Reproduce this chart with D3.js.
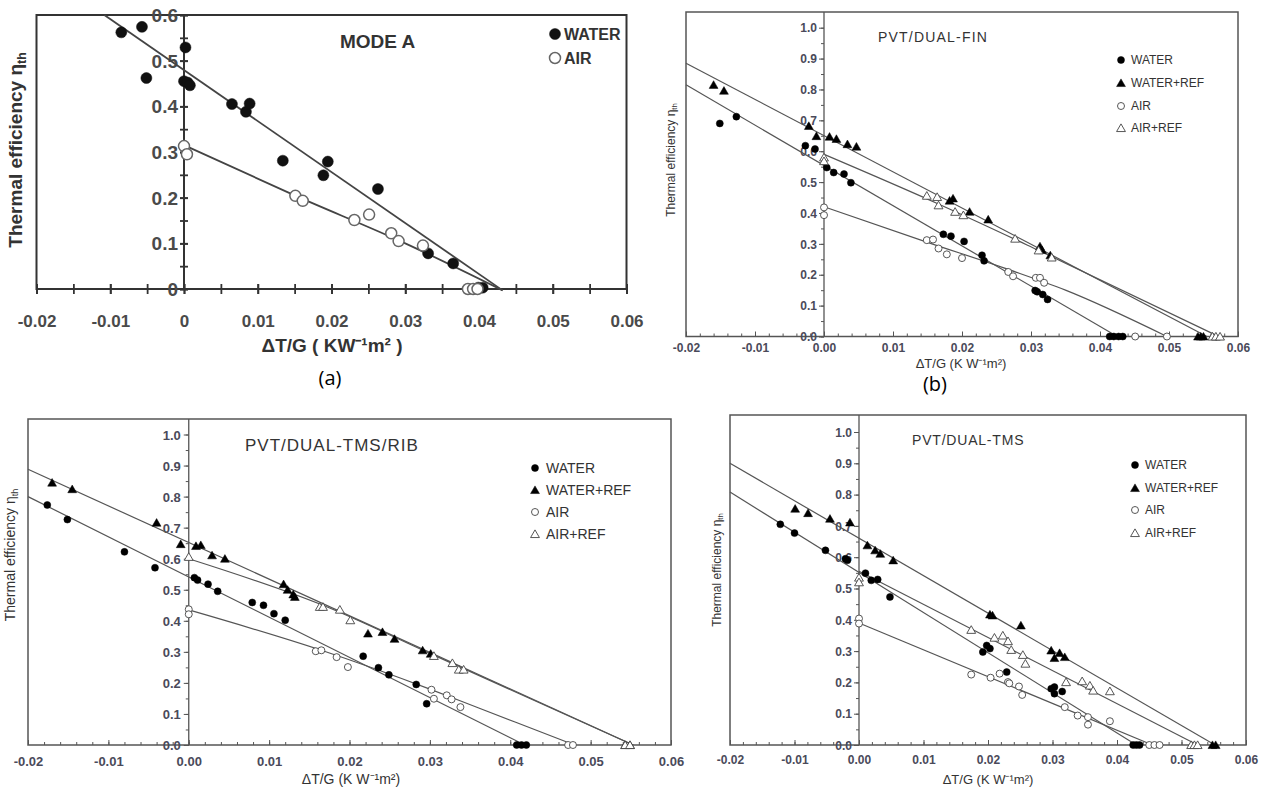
<!DOCTYPE html>
<html><head><meta charset="utf-8">
<script src="https://cdn.jsdelivr.net/npm/d3@7"></script>
<style>body{margin:0;background:#fff}svg{display:block}</style>
</head><body>
<svg id="fig" width="1267" height="790"></svg>
<script>
// ---------- tick values / labels ----------
const xTickValues = [-0.02,-0.01,0,0.01,0.02,0.03,0.04,0.05,0.06];
const xTickLabelsA = ["-0.02","-0.01","0","0.01","0.02","0.03","0.04","0.05","0.06"];
const xTickLabelsB = ["-0.02","-0.01","0.00","0.01","0.02","0.03","0.04","0.05","0.06"];
const yTickValuesA = [0,0.1,0.2,0.3,0.4,0.5,0.6];
const yTickLabelsA = ["0","0.1","0.2","0.3","0.4","0.5","0.6"];
const yTickValuesB = [0,0.1,0.2,0.3,0.4,0.5,0.6,0.7,0.8,0.9,1.0];
const yTickLabelsB = ["0.0","0.1","0.2","0.3","0.4","0.5","0.6","0.7","0.8","0.9","1.0"];
const legendA = ["WATER","AIR"];
const legendB = ["WATER","WATER+REF","AIR","AIR+REF"];
const panelTitles = ["MODE A","PVT/DUAL-FIN","PVT/DUAL-TMS/RIB","PVT/DUAL-TMS"];
const subLabels = ["(a)","(b)"];

// ---------- panel (a) MODE A ----------
const aWater = [[-0.0085,0.562],[-0.0057,0.574],[-0.0051,0.462],[0.0002,0.529],[0,0.455],[0.0005,0.452],[0.0008,0.446],[0.0065,0.405],[0.0084,0.388],[0.0089,0.406],[0.0134,0.281],[0.0189,0.249],[0.0195,0.279],[0.0263,0.219],[0.0331,0.078],[0.0365,0.056],[0.0399,0.003],[0.0405,0.003]];
const aAir = [[0,0.313],[0.0004,0.295],[0.0151,0.204],[0.0161,0.193],[0.0231,0.151],[0.0251,0.163],[0.0281,0.122],[0.0291,0.105],[0.0324,0.095],[0.0385,0.0],[0.0392,0.0],[0.0398,0.0]];
const aFitWater = [[-0.0108,0.6],[0.0432,-0.003]];
const aFitAir = [[0,0.315],[0.015,0.205],[0.03,0.1],[0.0432,-0.003]];

// ---------- panel (b) PVT/DUAL-FIN ----------
const bWater = [[-0.0151,0.69],[-0.0127,0.712],[-0.0027,0.618],[-0.0013,0.607],[0.0004,0.547],[0.0014,0.531],[0.0029,0.526],[0.0039,0.498],[0.0173,0.331],[0.0184,0.325],[0.0203,0.308],[0.0229,0.263],[0.0232,0.245],[0.0306,0.149],[0.0309,0.145],[0.0317,0.136],[0.0324,0.12],[0.0414,0],[0.042,0],[0.0427,0],[0.0433,0]];
const bWaterRef = [[-0.016,0.815],[-0.0145,0.796],[-0.0022,0.682],[-0.0011,0.649],[0.0008,0.647],[0.0018,0.64],[0.0034,0.623],[0.0047,0.615],[0.0182,0.44],[0.0187,0.447],[0.0211,0.404],[0.0238,0.379],[0.0313,0.292],[0.0316,0.28],[0.0328,0.263],[0.0542,0],[0.0546,0],[0.055,0]];
const bAir = [[0,0.418],[0,0.393],[0.0149,0.312],[0.0158,0.314],[0.0166,0.285],[0.0178,0.266],[0.02,0.254],[0.0267,0.209],[0.0274,0.195],[0.0307,0.19],[0.0313,0.19],[0.0319,0.174],[0.0451,0],[0.0497,0]];
const bAirRef = [[0,0.58],[0,0.568],[0.0149,0.456],[0.0164,0.452],[0.0166,0.425],[0.019,0.404],[0.0202,0.393],[0.0277,0.317],[0.0311,0.279],[0.033,0.256],[0.0563,0],[0.0568,0],[0.0574,0]];
const bFitWater = [[-0.02,0.815],[0.0425,0]];
const bFitWaterRef = [[-0.02,0.885],[0.0555,0]];
const bFitAir = [[0,0.42],[0.015,0.305],[0.027,0.215],[0.035,0.15],[0.0497,0]];
const bFitAirRef = [[0,0.59],[0.0165,0.43],[0.031,0.28],[0.0572,0]];

// ---------- panel (c) PVT/DUAL-TMS/RIB ----------
const cWater = [[-0.0176,0.773],[-0.0151,0.726],[-0.008,0.622],[-0.0042,0.571],[0.0007,0.539],[0.0011,0.531],[0.0024,0.518],[0.0036,0.495],[0.0079,0.459],[0.0093,0.45],[0.0106,0.423],[0.012,0.402],[0.0217,0.286],[0.0236,0.249],[0.0249,0.226],[0.0283,0.195],[0.0296,0.133],[0.0408,0],[0.0414,0],[0.042,0]];
const cWaterRef = [[-0.017,0.845],[-0.0145,0.824],[-0.004,0.716],[-0.001,0.647],[0.0009,0.641],[0.0015,0.644],[0.0029,0.611],[0.0045,0.6],[0.0118,0.518],[0.0123,0.5],[0.013,0.485],[0.0132,0.477],[0.0223,0.359],[0.0241,0.364],[0.0256,0.342],[0.0291,0.305],[0.0301,0.294],[0.0543,0],[0.0549,0]];
const cAir = [[0,0.437],[0,0.421],[0.0158,0.302],[0.0165,0.305],[0.0184,0.283],[0.0198,0.251],[0.0302,0.178],[0.0305,0.149],[0.0321,0.16],[0.0327,0.147],[0.0338,0.122],[0.0472,0],[0.0478,0]];
const cAirRef = [[0,0.606],[0.0163,0.445],[0.0167,0.445],[0.0188,0.436],[0.0201,0.402],[0.0305,0.287],[0.0328,0.264],[0.0336,0.243],[0.0342,0.243],[0.0543,0],[0.0549,0]];
const cFitWater = [[-0.02,0.80],[0.0418,0]];
const cFitWaterRef = [[-0.02,0.888],[0.0553,0]];
const cFitAir = [[0,0.435],[0.0165,0.305],[0.03,0.18],[0.036,0.12],[0.048,0]];
const cFitAirRef = [[0,0.60],[0.0167,0.45],[0.03,0.295],[0.0553,0]];

// ---------- panel (d) PVT/DUAL-TMS ----------
const dWater = [[-0.0122,0.705],[-0.01,0.677],[-0.0052,0.622],[-0.0021,0.595],[-0.0018,0.59],[0.001,0.549],[0.0019,0.526],[0.0029,0.529],[0.0048,0.473],[0.0192,0.297],[0.0198,0.318],[0.0203,0.308],[0.0229,0.233],[0.0298,0.18],[0.0303,0.185],[0.0303,0.164],[0.0315,0.171],[0.0425,0],[0.043,0],[0.0435,0]];
const dWaterRef = [[-0.0099,0.755],[-0.0079,0.741],[-0.0045,0.723],[-0.0014,0.711],[0.0013,0.638],[0.0025,0.622],[0.0033,0.611],[0.0053,0.59],[0.0203,0.417],[0.0207,0.414],[0.0251,0.382],[0.0298,0.302],[0.0303,0.278],[0.0311,0.294],[0.0319,0.281],[0.0548,0],[0.0553,0]];
const dAir = [[0,0.404],[0,0.388],[0.0174,0.225],[0.0204,0.215],[0.0218,0.228],[0.0231,0.201],[0.0233,0.197],[0.0248,0.187],[0.0253,0.16],[0.0319,0.121],[0.0339,0.094],[0.0355,0.089],[0.0355,0.065],[0.0389,0.076],[0.045,0],[0.0458,0],[0.0466,0]];
const dAirRef = [[0,0.535],[0,0.52],[0.0174,0.368],[0.021,0.343],[0.0223,0.35],[0.0231,0.332],[0.0236,0.304],[0.0254,0.288],[0.0258,0.26],[0.0321,0.201],[0.0346,0.204],[0.0358,0.19],[0.0363,0.174],[0.0389,0.172],[0.0515,0],[0.052,0],[0.0525,0]];
const dFitWater = [[-0.02,0.808],[0.043,0]];
const dFitWaterRef = [[-0.02,0.90],[0.0552,0]];
const dFitAir = [[0,0.39],[0.0455,0]];
const dFitAirRef = [[0,0.555],[0.0525,0]];

// =====================================================
const svg = d3.select("#fig");
const FA = "'Liberation Sans Narrow','Liberation Sans',Arial,sans-serif";
const FB = "'Liberation Sans',Arial,sans-serif";

function marker(g, shape, filled, cx, cy, st) {
  if (shape === "circle") {
    g.append("circle").attr("cx", cx).attr("cy", cy).attr("r", st.r)
      .attr("fill", filled ? st.fillC : "#fff").attr("stroke", filled ? st.fillC : st.openC)
      .attr("stroke-width", filled ? 0.5 : st.sw);
  } else {
    g.append("path").attr("d", d3.symbol(d3.symbolTriangle, st.tri)())
      .attr("transform", `translate(${cx},${cy + 1})`)
      .attr("fill", filled ? st.fillC : "#fff").attr("stroke", filled ? st.fillC : st.openC)
      .attr("stroke-width", filled ? 0.5 : st.sw);
  }
}

function panel(cfg) {
  const g = svg.append("g");
  const x = d3.scaleLinear().domain([-0.02, 0.06]).range([cfg.left, cfg.right]);
  const y = d3.scaleLinear().domain(cfg.yDom).range(cfg.yRange);
  const bottom = y(0);
  const st = cfg.style;

  // frame
  g.append("rect").attr("x", cfg.left).attr("y", cfg.top)
    .attr("width", cfg.right - cfg.left).attr("height", bottom - cfg.top)
    .attr("fill", "none").attr("stroke", st.frameC).attr("stroke-width", st.frameW);
  // vertical axis at x = 0
  g.append("line").attr("x1", x(0)).attr("x2", x(0)).attr("y1", cfg.top).attr("y2", bottom)
    .attr("stroke", st.frameC).attr("stroke-width", st.axisW);

  // x axis: minor ticks
  const xMinor = d3.axisBottom(x).tickValues(cfg.xMinor).tickFormat("").tickSizeOuter(0);
  const gxm = g.append("g").attr("transform", `translate(0,${bottom})`).call(xMinor);
  gxm.select(".domain").remove();
  gxm.selectAll("line").attr("y1", cfg.xMinorY[0]).attr("y2", cfg.xMinorY[1]).attr("stroke", st.frameC).attr("stroke-width", st.tickW);
  // x axis: major ticks + labels
  const xMajor = d3.axisBottom(x).tickValues(xTickValues).tickFormat((d, i) => cfg.xLabels[i]).tickSizeOuter(0);
  const gx = g.append("g").attr("transform", `translate(0,${bottom})`).call(xMajor);
  gx.select(".domain").remove();
  gx.selectAll("line").attr("y1", cfg.xMajorY[0]).attr("y2", cfg.xMajorY[1]).attr("stroke", st.frameC).attr("stroke-width", st.tickW);
  gx.selectAll("text").attr("y", cfg.xLabelDy).attr("dy", "0.35em")
    .attr("font-family", cfg.font).attr("font-size", cfg.xTickFs).attr("font-weight", cfg.tickWeight).attr("fill", st.tickTextC);

  // y axis: minor ticks
  const yMinor = d3.axisLeft(y).tickValues(cfg.yMinor).tickFormat("").tickSizeOuter(0);
  const gym = g.append("g").attr("transform", `translate(${x(0)},0)`).call(yMinor);
  gym.select(".domain").remove();
  gym.selectAll("line").attr("x1", cfg.yMinorX[0]).attr("x2", cfg.yMinorX[1]).attr("stroke", st.frameC).attr("stroke-width", st.tickW);
  // y axis: major ticks + labels
  const yMajor = d3.axisLeft(y).tickValues(cfg.yTicks).tickFormat((d, i) => cfg.yLabels[i]).tickSizeOuter(0);
  const gy = g.append("g").attr("transform", `translate(${x(0)},0)`).call(yMajor);
  gy.select(".domain").remove();
  gy.selectAll("line").attr("x1", cfg.yMajorX[0]).attr("x2", cfg.yMajorX[1]).attr("stroke", st.frameC).attr("stroke-width", st.tickW);
  gy.selectAll("text").attr("x", cfg.yLabelDx).attr("dy", "0.35em")
    .attr("font-family", cfg.font).attr("font-size", cfg.yTickFs).attr("font-weight", cfg.tickWeight).attr("fill", st.tickTextC);

  // fit lines
  const line = d3.line().x(d => x(d[0])).y(d => y(d[1])).curve(d3.curveMonotoneX);
  cfg.series.forEach(s => {
    g.append("path").attr("d", line(s.fit)).attr("fill", "none")
      .attr("stroke", st.lineC).attr("stroke-width", st.lineW);
  });
  // markers
  cfg.series.forEach(s => {
    s.data.forEach(d => marker(g, s.shape, s.filled, x(d[0]), y(d[1]), st));
  });

  // title
  g.append("text").attr("x", cfg.titleX).attr("y", cfg.titleY).text(cfg.title)
    .attr("font-family", cfg.font).attr("font-size", cfg.titleFs).attr("font-weight", cfg.titleWeight)
    .attr("letter-spacing", cfg.titleLs).attr("fill", st.textC);

  // legend
  cfg.series.forEach((s, i) => {
    const ly = cfg.legY[i];
    marker(g, s.shape, s.filled, cfg.legX, ly, st);
    g.append("text").attr("x", cfg.legX + cfg.legGap).attr("y", ly).attr("dy", "0.36em").text(cfg.legend[i])
      .attr("font-family", cfg.font).attr("font-size", cfg.legFs).attr("font-weight", cfg.legWeight).attr("fill", st.textC);
  });

  // axis titles
  g.append("text").attr("x", cfg.xTitle[0]).attr("y", cfg.xTitle[1]).attr("text-anchor", "middle")
    .attr("font-family", cfg.font).attr("font-size", cfg.xTitleFs).attr("font-weight", cfg.labelWeight).attr("fill", st.textC)
    .text(cfg.xTitleText);
  const yl = g.append("text").attr("transform", `translate(${cfg.yTitle[0]},${cfg.yTitle[1]}) rotate(-90)`)
    .attr("text-anchor", "middle").attr("font-family", cfg.font).attr("font-size", cfg.yTitleFs)
    .attr("font-weight", cfg.labelWeight).attr("fill", st.textC);
  yl.append("tspan").text("Thermal efficiency \u03B7");
  yl.append("tspan").attr("font-size", "65%").attr("dy", "0.3em").text("th");
}

const range = (a, b, s) => d3.range(Math.round(a / s), Math.round(b / s) + 1).map(k => +(k * s).toFixed(4));

const styleA = { frameC: "#333", frameW: 2, axisW: 2, tickW: 1.8, tickTextC: "#4a4a4a", textC: "#333",
  lineC: "#444", lineW: 1.8, r: 5.5, tri: 60, sw: 1.5, fillC: "#111", openC: "#666" };
const styleB = { frameC: "#555", frameW: 1.5, axisW: 1.3, tickW: 1, tickTextC: "#4a4a5a", textC: "#333",
  lineC: "#555", lineW: 1.2, r: 3.5, tri: 34, sw: 0.9, fillC: "#000", openC: "#444" };

// panel (a)
panel({
  left: 36.5, right: 626.5, top: 15, yDom: [0, 0.6], yRange: [289, 15], style: styleA,
  font: FA, tickWeight: "bold", titleWeight: "bold", legWeight: "bold", labelWeight: "bold",
  xLabels: xTickLabelsA, xMinor: range(-0.02, 0.06, 0.005), xMinorY: [-5, 5], xMajorY: [-5, 5], xLabelDy: 32, xTickFs: 17,
  yTicks: yTickValuesA, yLabels: yTickLabelsA, yMinor: range(0, 0.6, 0.05), yMinorX: [-4, 4], yMajorX: [-4, 4], yLabelDx: -6, yTickFs: 19,
  series: [
    { data: aWater, fit: aFitWater, shape: "circle", filled: true },
    { data: aAir, fit: aFitAir, shape: "circle", filled: false }
  ],
  title: panelTitles[0], titleX: 340, titleY: 48, titleFs: 19, titleLs: 0,
  legend: legendA, legX: 555, legY: [34, 58], legGap: 9, legFs: 16,
  xTitle: [332, 352], xTitleFs: 19, xTitleText: "\u0394T/G  ( KW\u207B\u00B9m\u00B2 )",
  yTitle: [22, 150], yTitleFs: 19
});

// panel (b)
panel({
  left: 686, right: 1238, top: 12, yDom: [0, 1], yRange: [336.5, 27.7], style: styleB,
  font: FB, tickWeight: "bold", titleWeight: "normal", legWeight: "normal", labelWeight: "normal",
  xLabels: xTickLabelsB, xMinor: range(-0.02, 0.06, 0.002), xMinorY: [0, -3], xMajorY: [0, -5], xLabelDy: 11, xTickFs: 12,
  yTicks: yTickValuesB, yLabels: yTickLabelsB, yMinor: range(0, 1.0, 0.05), yMinorX: [0, -3], yMajorX: [0, -5], yLabelDx: -7, yTickFs: 12,
  series: [
    { data: bWater, fit: bFitWater, shape: "circle", filled: true },
    { data: bWaterRef, fit: bFitWaterRef, shape: "triangle", filled: true },
    { data: bAir, fit: bFitAir, shape: "circle", filled: false },
    { data: bAirRef, fit: bFitAirRef, shape: "triangle", filled: false }
  ],
  title: panelTitles[1], titleX: 878, titleY: 42, titleFs: 14, titleLs: 1.2,
  legend: legendB, legX: 1121, legY: [60, 83, 106, 128], legGap: 10, legFs: 12,
  xTitle: [961, 368], xTitleFs: 13, xTitleText: "\u0394T/G (K W\u207B\u00B9m\u00B2)",
  yTitle: [675, 160], yTitleFs: 12
});

// panel (c)
panel({
  left: 28, right: 671, top: 419, yDom: [0, 1], yRange: [745, 434.5], style: styleB,
  font: FB, tickWeight: "bold", titleWeight: "normal", legWeight: "normal", labelWeight: "normal",
  xLabels: xTickLabelsB, xMinor: range(-0.02, 0.06, 0.002), xMinorY: [0, -3], xMajorY: [0, -5], xLabelDy: 16, xTickFs: 13,
  yTicks: yTickValuesB, yLabels: yTickLabelsB, yMinor: range(0, 1.0, 0.05), yMinorX: [0, -3], yMajorX: [0, -5], yLabelDx: -8, yTickFs: 13,
  series: [
    { data: cWater, fit: cFitWater, shape: "circle", filled: true },
    { data: cWaterRef, fit: cFitWaterRef, shape: "triangle", filled: true },
    { data: cAir, fit: cFitAir, shape: "circle", filled: false },
    { data: cAirRef, fit: cFitAirRef, shape: "triangle", filled: false }
  ],
  title: panelTitles[2], titleX: 245, titleY: 451, titleFs: 17, titleLs: 1,
  legend: legendB, legX: 535, legY: [468, 490, 512, 534], legGap: 11, legFs: 14,
  xTitle: [351, 784], xTitleFs: 14, xTitleText: "\u0394T/G (K W\u207B\u00B9m\u00B2)",
  yTitle: [15, 555], yTitleFs: 14
});

// panel (d)
panel({
  left: 730, right: 1246, top: 415, yDom: [0, 1], yRange: [745, 432], style: styleB,
  font: FB, tickWeight: "bold", titleWeight: "normal", legWeight: "normal", labelWeight: "normal",
  xLabels: xTickLabelsB, xMinor: range(-0.02, 0.06, 0.002), xMinorY: [0, -3], xMajorY: [0, -5], xLabelDy: 15, xTickFs: 12,
  yTicks: yTickValuesB, yLabels: yTickLabelsB, yMinor: range(0, 1.0, 0.05), yMinorX: [0, -3], yMajorX: [0, -5], yLabelDx: -7, yTickFs: 12,
  series: [
    { data: dWater, fit: dFitWater, shape: "circle", filled: true },
    { data: dWaterRef, fit: dFitWaterRef, shape: "triangle", filled: true },
    { data: dAir, fit: dFitAir, shape: "circle", filled: false },
    { data: dAirRef, fit: dFitAirRef, shape: "triangle", filled: false }
  ],
  title: panelTitles[3], titleX: 912, titleY: 445, titleFs: 14, titleLs: 0.8,
  legend: legendB, legX: 1135, legY: [465, 488, 510, 533], legGap: 10, legFs: 12,
  xTitle: [988, 784], xTitleFs: 13, xTitleText: "\u0394T/G (K W\u207B\u00B9m\u00B2)",
  yTitle: [721, 570], yTitleFs: 12
});

// sub-figure labels
svg.append("text").attr("x", 330).attr("y", 385).attr("text-anchor", "middle").text(subLabels[0])
  .attr("font-family", "'Open Sans','Liberation Sans',sans-serif").attr("font-size", 20).attr("fill", "#000");
svg.append("text").attr("x", 935).attr("y", 391).attr("text-anchor", "middle").text(subLabels[1])
  .attr("font-family", "'Open Sans','Liberation Sans',sans-serif").attr("font-size", 20).attr("fill", "#000");
</script>
</body></html>
